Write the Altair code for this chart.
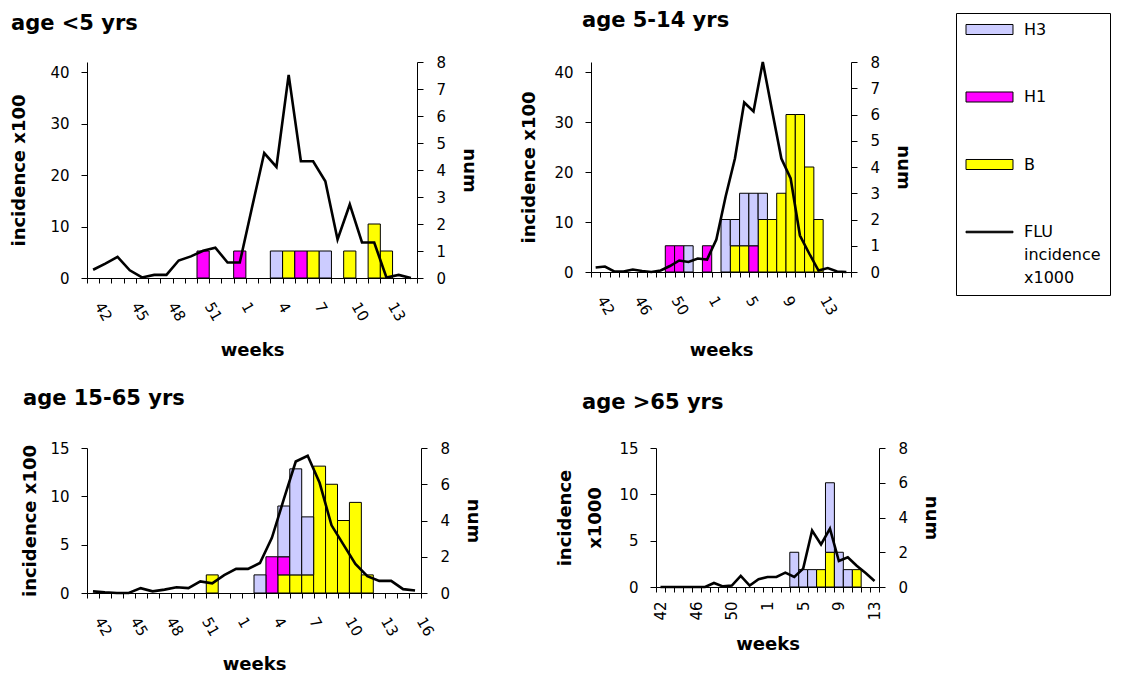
import json
import altair as alt
import pandas as pd

FONT = "DejaVu Sans"

# week categories (season 2004/2005 has a week 53)
WEEKS = [str(w) for w in list(range(42, 54)) + list(range(1, 17))]

FILL_DOMAIN = ["H3", "H1", "B"]
FILL_RANGE = ["#ccccff", "#ff00ff", "#ffff00"]
STACK_ORDER = {"B": 0, "H1": 1, "H3": 2}
LEGEND_NAMES = ["H3", "H1", "B", "FLU incidence x1000"]
LEGEND_COLORS = ["#ccccff", "#ff00ff", "#ffff00", "#000000"]
LEGEND_STROKES = ["#000000", "#000000", "#000000", "#000000"]
# legend symbols: custom paths (unit = sqrt(symbolSize)/2 = 6.5 px)
RECT = "M-1,-0.77L6.23,-0.77L6.23,0.77L-1,0.77Z"
LINE = "M-1,-0.12L6.23,-0.12L6.23,0.12L-1,0.12Z"
LEGEND_SHAPES = [RECT, RECT, RECT, LINE]

# ---- age <5 yrs (weeks 42..15) ----
p1_line = [1.6, 2.8, 4.1, 1.5, 0.1, 0.6, 0.6, 3.4, 4.2, 5.3, 5.9, 3.0, 3.0, 13.7,
           24.3, 21.6, 39.5, 22.7, 22.7, 18.8, 7.5, 14.3, 6.9, 6.9, 0.1, 0.6, 0.0]
p1_B = [0, 0, 0, 0, 0, 0, 0, 0, 0, 0, 0, 0, 0, 0, 0, 0, 1, 0, 1, 0, 0, 1, 0, 2, 1, 0, 0]
p1_H1 = [0, 0, 0, 0, 0, 0, 0, 0, 0, 1, 0, 0, 1, 0, 0, 0, 0, 1, 0, 0, 0, 0, 0, 0, 0, 0, 0]
p1_H3 = [0, 0, 0, 0, 0, 0, 0, 0, 0, 0, 0, 0, 0, 0, 0, 1, 0, 0, 0, 1, 0, 0, 0, 0, 0, 0, 0]
p1_labels = ["42", "45", "48", "51", "1", "4", "7", "10", "13"]

# ---- age 5-14 yrs (weeks 42..16) ----
p2_line = [0.9, 1.1, 0.1, 0.1, 0.5, 0.2, 0.0, 0.3, 1.2, 2.3, 2.0, 2.7, 2.5, 6.5,
           15.1, 22.7, 33.9, 32.1, 42.0, 32.3, 22.7, 18.7, 7.3, 3.7, 0.3, 0.8, 0.1, 0.0]
p2_B = [0, 0, 0, 0, 0, 0, 0, 0, 0, 0, 0, 0, 0, 0, 0, 1, 1, 0, 2, 2, 3, 6, 6, 4, 2, 0, 0, 0]
p2_H1 = [0, 0, 0, 0, 0, 0, 0, 0, 1, 1, 0, 0, 1, 0, 0, 0, 0, 1, 0, 0, 0, 0, 0, 0, 0, 0, 0, 0]
p2_H3 = [0, 0, 0, 0, 0, 0, 0, 0, 0, 0, 1, 0, 0, 0, 2, 1, 2, 2, 1, 0, 0, 0, 0, 0, 0, 0, 0, 0]
p2_labels = ["42", "46", "50", "1", "5", "9", "13"]

# ---- age 15-65 yrs (weeks 42..16) ----
p3_line = [0.17, 0.07, 0.0, 0.0, 0.5, 0.17, 0.35, 0.6, 0.5, 1.2, 1.0, 1.85, 2.5, 2.5,
           3.1, 5.7, 9.7, 13.6, 14.2, 11.4, 7.0, 5.0, 3.0, 1.75, 1.25, 1.25, 0.4, 0.25]
p3_B = [0, 0, 0, 0, 0, 0, 0, 0, 0, 0, 1, 0, 0, 0, 0, 0, 1, 1, 1, 7, 6, 4, 5, 1, 0, 0, 0, 0]
p3_H1 = [0, 0, 0, 0, 0, 0, 0, 0, 0, 0, 0, 0, 0, 0, 0, 2, 1, 0, 0, 0, 0, 0, 0, 0, 0, 0, 0, 0]
p3_H3 = [0, 0, 0, 0, 0, 0, 0, 0, 0, 0, 0, 0, 0, 0, 1, 0, 2.8, 5.85, 3.2, 0, 0, 0, 0, 0, 0, 0, 0, 0]
p3_labels = ["42", "45", "48", "51", "1", "4", "7", "10", "13", "16"]

# ---- age >65 yrs (weeks 42..13) ----
p4_line = [0.0, 0.0, 0.0, 0.0, 0.0, 0.0, 0.43, 0.07, 0.15, 1.2, 0.15, 0.83, 1.08,
           1.08, 1.55, 1.08, 1.98, 6.1, 4.6, 6.3, 2.8, 3.2, 2.3, 1.5, 0.65]
p4_B = [0, 0, 0, 0, 0, 0, 0, 0, 0, 0, 0, 0, 0, 0, 0, 0, 0, 0, 1, 2, 0, 0, 1, 0, 0]
p4_H1 = [0, 0, 0, 0, 0, 0, 0, 0, 0, 0, 0, 0, 0, 0, 0, 0, 0, 0, 0, 0, 0, 0, 0, 0, 0]
p4_H3 = [0, 0, 0, 0, 0, 0, 0, 0, 0, 0, 0, 0, 0, 0, 0, 2, 1, 1, 0, 4, 2, 1, 0, 0, 0]
p4_labels = ["42", "46", "50", "1", "5", "9", "13"]


def make_panel(title, tdx, toff, line, B, H1, H3, labels, width, height,
               left_max, left_vals, right_vals, left_title, angle, x_title_pad,
               left_title_pad=21, left_title_lh=None, with_legend=False):
    n = len(line)
    weeks = WEEKS[:n]
    rows = []
    for name, vals in (("B", B), ("H1", H1), ("H3", H3)):
        for i, v in enumerate(vals):
            if v > 0:
                rows.append({"week": weeks[i], "series": name, "value": v,
                             "ord": STACK_ORDER[name]})
    bars_df = pd.DataFrame(rows)
    line_df = pd.DataFrame({"week": weeks, "inc": line})

    label_expr = "indexof(%s, datum.label) >= 0 ? datum.label : ''" % json.dumps(labels)
    x_axis = alt.Axis(
        title="weeks", labelExpr=label_expr, labelAngle=angle, tickBand="extent",
        labelOverlap=False, labelFontSize=15, labelPadding=20 if angle == 60 else 9,
        labelOffset=5 if angle == 60 else 0, tickSize=5, titlePadding=x_title_pad,
        titleFontSize=18,
    )
    x_scale = alt.Scale(paddingInner=0, paddingOuter=0)

    bars = alt.Chart(bars_df).mark_bar(stroke="black", strokeWidth=1).encode(
        x=alt.X("week:N", sort=weeks, scale=x_scale, axis=x_axis),
        y=alt.Y("value:Q", stack="zero", scale=alt.Scale(domain=[0, 8]),
                axis=alt.Axis(orient="right", title="num", values=right_vals,
                              tickSize=6, labelPadding=13, titlePadding=14)),
        fill=alt.Fill("series:N", scale=alt.Scale(domain=FILL_DOMAIN, range=FILL_RANGE),
                      legend=None),
        order=alt.Order("ord:Q"),
    )
    laxis = dict(orient="left", title=left_title, values=left_vals, tickSize=6,
                 labelPadding=12, titlePadding=left_title_pad)
    if left_title_lh is not None:
        laxis["titleLineHeight"] = left_title_lh
    ln = alt.Chart(line_df).mark_line(color="black", strokeWidth=2.6).encode(
        x=alt.X("week:N", sort=weeks, bandPosition=0.5),
        y=alt.Y("inc:Q", scale=alt.Scale(domain=[0, left_max]), axis=alt.Axis(**laxis)),
    )
    layers = [bars, ln]
    if with_legend:
        leg_df = pd.DataFrame({"name": LEGEND_NAMES})
        leg = alt.Legend(
            orient="none", legendX=869, legendY=-49, title=None,
            labelFont=FONT, labelFontSize=16, labelColor="black",
            labelExpr="datum.label == 'FLU incidence x1000' ? ['FLU', 'incidence', 'x1000'] : datum.label",
            labelBaseline="middle", labelOffset=43.5,
            symbolSize=169, symbolStrokeColor="black", symbolStrokeWidth=1,
            symbolOpacity=1, rowPadding=51.5, padding=8.5,
            strokeColor="black", fillColor="white", cornerRadius=0,
        )
        pts = alt.Chart(leg_df).transform_filter("false").mark_point(
            filled=True, opacity=1, size=169, strokeWidth=1).encode(
            color=alt.Color("name:N", scale=alt.Scale(domain=LEGEND_NAMES, range=LEGEND_COLORS),
                            legend=leg),
            stroke=alt.Stroke("name:N", scale=alt.Scale(domain=LEGEND_NAMES, range=LEGEND_STROKES),
                              legend=leg),
            shape=alt.Shape("name:N", scale=alt.Scale(domain=LEGEND_NAMES, range=LEGEND_SHAPES),
                            legend=leg),
        )
        layers.append(pts)
    return alt.layer(*layers).resolve_scale(y="independent").properties(
        width=width, height=height,
        title=alt.TitleParams(title, anchor="start", frame="group", dx=tdx, offset=toff,
                              font=FONT, fontSize=21, fontWeight="bold", color="black"),
    )


p1 = make_panel("age <5 yrs", -76, 21.5, p1_line, p1_B, p1_H1, p1_H3, p1_labels, 330, 216,
                42, [0, 10, 20, 30, 40], list(range(9)), "incidence x100", 60, 18)
p2 = make_panel("age 5-14 yrs", -9, 24, p2_line, p2_B, p2_H1, p2_H3, p2_labels, 260, 210,
                42, [0, 10, 20, 30, 40], list(range(9)), "incidence x100", 60, 24,
                left_title_pad=15, with_legend=True)
p3 = make_panel("age 15-65 yrs", -64, 32, p3_line, p3_B, p3_H1, p3_H3, p3_labels, 334, 145,
                15, [0, 5, 10, 15], [0, 2, 4, 6, 8], [" ", "incidence x100"], 60, 17,
                left_title_pad=10.5, left_title_lh=11)
p4 = make_panel("age >65 yrs", -74, 28, p4_line, p4_B, p4_H1, p4_H3, p4_labels, 223, 139,
                15, [0, 5, 10, 15], [0, 2, 4, 6, 8], ["incidence", "x1000"], 270, 15,
                left_title_pad=14, left_title_lh=30)

top = alt.hconcat(p1, p2, spacing=42)
bottom = alt.hconcat(p3, p4, spacing=74)
chart = alt.vconcat(top, bottom, spacing=28).properties(
    padding={"left": 2, "top": 2, "right": 2, "bottom": 2}
).configure(
    font=FONT,
    view=alt.ViewConfig(stroke=None),
    axis=alt.AxisConfig(
        labelFont=FONT, labelFontSize=15, labelColor="black",
        titleFont=FONT, titleFontSize=18, titleFontWeight="bold", titleColor="black",
        domainColor="black", tickColor="black", grid=False, domainWidth=1, tickWidth=1,
    ),
    style={"guide-label": {"lineHeight": 23}},
)

chart.save("out.html", embed_options={"renderer": "svg", "actions": False})
